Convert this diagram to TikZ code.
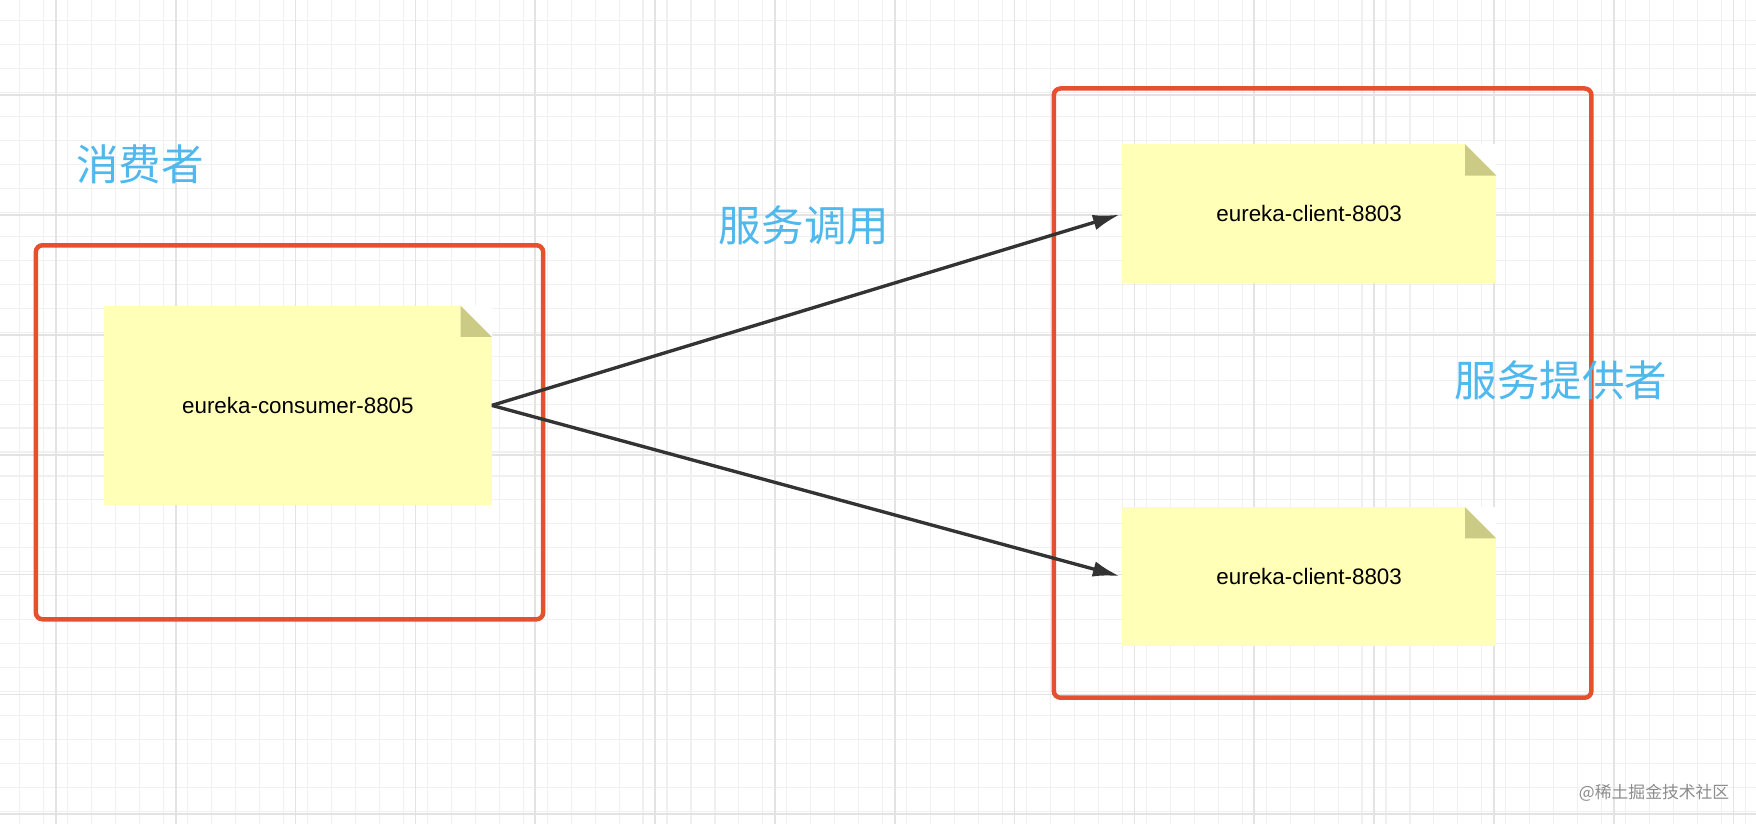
\documentclass[tikz,border=0pt]{standalone}
\usepackage{fontspec}
\setmainfont{Liberation Sans}
\newfontfamily\cjk{Noto Sans CJK SC}
\usetikzlibrary{arrows.meta,positioning}
\definecolor{boxred}{HTML}{E5512D}
\definecolor{noteyel}{HTML}{FFFFB8}
\definecolor{notefold}{HTML}{CBCB85}
\definecolor{lblblue}{HTML}{4FB8EC}
\tikzset{>={Latex[width=14pt,length=24pt]}}
\tikzset{
  frame/.style={draw=boxred, line width=4pt, rounded corners=6pt},
  note/.style={fill=noteyel, inner sep=0pt, font=\fontsize{20}{24}\selectfont},
  tag/.style={text=lblblue, font=\cjk\fontsize{38}{44}\selectfont},
  link/.style={->, draw=black!80, line width=3pt, shorten >=2pt},
}
\newcommand\fold[1]{%
  \fill[white] ([xshift=-28pt]#1.north east) -- (#1.north east) -- ([yshift=-28pt]#1.north east) -- cycle;
  \fill[notefold] ([xshift=-28pt]#1.north east) -- ([xshift=-28pt,yshift=-28pt]#1.north east) -- ([yshift=-28pt]#1.north east) -- cycle;}

\begin{document}
\begin{tikzpicture}[x=1pt,y=-1pt]
  \useasboundingbox (0,0) rectangle (1568,736);

  % grid
  \fill[white] (0,0) rectangle (1568,736);
  \foreach \k in {0,...,74} \draw[black!6, line width=1pt] (\k*21.4-3.6,0) -- (\k*21.4-3.6,736);
  \foreach \k in {0,...,35} \draw[black!6, line width=1pt] (0,\k*21.4-3) -- (1568,\k*21.4-3);
  \foreach \k in {0,...,14} \draw[black!11, line width=1.5pt] (\k*107+50,0) -- (\k*107+50,736);
  \foreach \k in {0,...,7} \draw[black!11, line width=1.5pt] (0,\k*107-22) -- (1568,\k*107-22);

  \draw[frame] (32,219) rectangle (485,553);
  \draw[frame] (941,79) rectangle (1421,623);

  \node[note, minimum width=346pt, minimum height=178pt] (consumer) at (266,362) {eureka-consumer-8805};
  \node[note, minimum width=334pt, minimum height=124pt] (client1) at (1169,191) {eureka-client-8803};
  \node[note, minimum width=334pt, minimum height=124pt] (client2) at (1169,515) {eureka-client-8803};
  \fold{consumer}
  \fold{client1}
  \fold{client2}

  \node[tag] (consumerlbl) at (125,147) {消费者};
  \node[tag] (calllbl) at (718,201) {服务调用};
  \node[tag] (providerlbl) at (1394,340) {服务提供者};

  \draw[link] (consumer.east) -- (client1.west);
  \draw[link] (consumer.east) -- (client2.west);

  \node[text=black!45, font=\cjk\fontsize{15}{18}\selectfont] (mark) at (1477,708) {@稀土掘金技术社区};
\end{tikzpicture}
\end{document}
